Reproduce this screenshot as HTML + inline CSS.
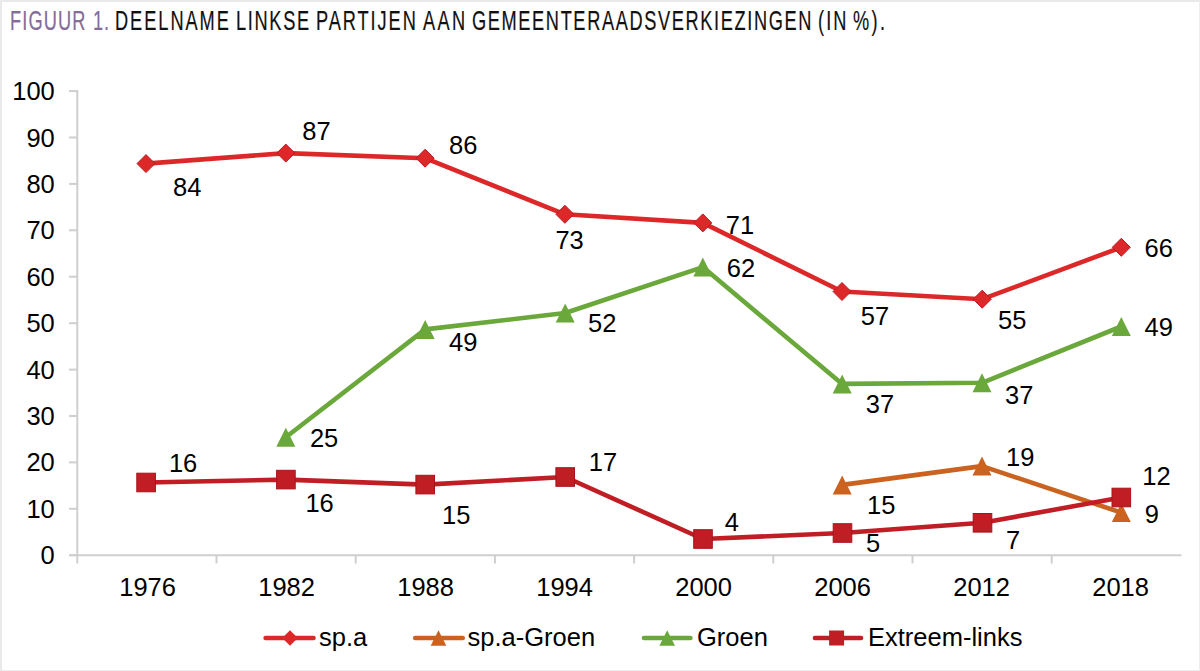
<!DOCTYPE html>
<html><head><meta charset="utf-8"><title>Figuur 1</title>
<style>
html,body{margin:0;padding:0;background:#fff;}
body{width:1200px;height:671px;overflow:hidden;position:relative;}
.frame{position:absolute;left:0;top:0;width:1200px;height:671px;box-sizing:border-box;border-top:2px solid #e9e9e9;border-left:2px solid #e9e9e9;border-right:1px solid #eeeeee;border-bottom:1px solid #ededed;}
h1{position:absolute;left:0;top:0;margin:0;width:1200px;height:40px;font-weight:normal;font-size:26px;}
h1 span{position:absolute;top:7.0px;-webkit-text-stroke:0.2px currentColor;font-family:"Liberation Sans", Arial, Helvetica, sans-serif;line-height:1;white-space:nowrap;transform-origin:0 0;}
h1 .fig{color:#836c99;}
h1 .ttl{color:#111;}
svg{position:absolute;left:0;top:0;}
</style></head><body>
<div class="frame"></div>
<h1 id="title"><span class="fig" style="left:9.50px;letter-spacing:1.595px;transform:scale(0.7,1.05)">FIGUUR</span> <span class="fig" style="left:92.50px;letter-spacing:1.397px;transform:scale(0.7,1.05)">1.</span> <span class="ttl" style="left:114.80px;letter-spacing:2.798px;transform:scale(0.7,1.05)">DEELNAME</span> <span class="ttl" style="left:236.00px;letter-spacing:2.400px;transform:scale(0.7,1.05)">LINKSE</span> <span class="ttl" style="left:316.20px;letter-spacing:2.764px;transform:scale(0.7,1.05)">PARTIJEN</span> <span class="ttl" style="left:423.30px;letter-spacing:3.444px;transform:scale(0.7,1.05)">AAN</span> <span class="ttl" style="left:472.10px;letter-spacing:2.321px;transform:scale(0.7,1.05)">GEMEENTERAADSVERKIEZINGEN</span> <span class="ttl" style="left:817.60px;letter-spacing:2.988px;transform:scale(0.7,1.05)">(IN</span> <span class="ttl" style="left:852.50px;letter-spacing:3.469px;transform:scale(0.7,1.05)">%).</span></h1>
<svg width="1200" height="671" viewBox="0 0 1200 671">
<g stroke="#cfcfcf" stroke-width="2" fill="none">
<line x1="77.3" y1="90.1" x2="77.3" y2="556.2"/>
<line x1="69" y1="555.2" x2="1181.5" y2="555.2"/>
<line x1="69" y1="555.2" x2="77.3" y2="555.2"/>
<line x1="69" y1="508.8" x2="77.3" y2="508.8"/>
<line x1="69" y1="462.4" x2="77.3" y2="462.4"/>
<line x1="69" y1="416.0" x2="77.3" y2="416.0"/>
<line x1="69" y1="369.6" x2="77.3" y2="369.6"/>
<line x1="69" y1="323.2" x2="77.3" y2="323.2"/>
<line x1="69" y1="276.7" x2="77.3" y2="276.7"/>
<line x1="69" y1="230.3" x2="77.3" y2="230.3"/>
<line x1="69" y1="183.9" x2="77.3" y2="183.9"/>
<line x1="69" y1="137.5" x2="77.3" y2="137.5"/>
<line x1="69" y1="91.1" x2="77.3" y2="91.1"/>
<line x1="77.3" y1="555.2" x2="77.3" y2="563.5"/>
<line x1="216.5" y1="555.2" x2="216.5" y2="563.5"/>
<line x1="355.7" y1="555.2" x2="355.7" y2="563.5"/>
<line x1="494.9" y1="555.2" x2="494.9" y2="563.5"/>
<line x1="634.1" y1="555.2" x2="634.1" y2="563.5"/>
<line x1="773.3" y1="555.2" x2="773.3" y2="563.5"/>
<line x1="912.5" y1="555.2" x2="912.5" y2="563.5"/>
<line x1="1051.7" y1="555.2" x2="1051.7" y2="563.5"/>
</g>
<g font-family='"Liberation Sans", Arial, Helvetica, sans-serif' font-size="25.5" fill="#000" text-anchor="end">
<text x="54.8" y="564.2">0</text>
<text x="54.8" y="517.8">10</text>
<text x="54.8" y="471.4">20</text>
<text x="54.8" y="425.0">30</text>
<text x="54.8" y="378.6">40</text>
<text x="54.8" y="332.2">50</text>
<text x="54.8" y="285.7">60</text>
<text x="54.8" y="239.3">70</text>
<text x="54.8" y="192.9">80</text>
<text x="54.8" y="146.5">90</text>
<text x="54.8" y="100.1">100</text>
</g>
<g font-family='"Liberation Sans", Arial, Helvetica, sans-serif' font-size="25.5" fill="#000" text-anchor="middle">
<text x="147.6" y="595.5">1976</text>
<text x="286.6" y="595.5">1982</text>
<text x="425.6" y="595.5">1988</text>
<text x="564.6" y="595.5">1994</text>
<text x="703.6" y="595.5">2000</text>
<text x="842.6" y="595.5">2006</text>
<text x="981.6" y="595.5">2012</text>
<text x="1120.6" y="595.5">2018</text>
</g>
<polyline points="146.0,163.6 285.8,153.1 425.1,158.2 564.9,214.3 702.8,222.9 842.0,291.5 982.2,299.2 1121.3,247.3" fill="none" stroke="#dd2829" stroke-width="4.6" stroke-linejoin="round" stroke-linecap="butt"/>
<path d="M137.0 163.6L146.0 154.6L155.0 163.6L146.0 172.6Z" fill="#dd2829" stroke="#c01820" stroke-width="1"/>
<path d="M276.8 153.1L285.8 144.1L294.8 153.1L285.8 162.1Z" fill="#dd2829" stroke="#c01820" stroke-width="1"/>
<path d="M416.1 158.2L425.1 149.2L434.1 158.2L425.1 167.2Z" fill="#dd2829" stroke="#c01820" stroke-width="1"/>
<path d="M555.9 214.3L564.9 205.3L573.9 214.3L564.9 223.3Z" fill="#dd2829" stroke="#c01820" stroke-width="1"/>
<path d="M693.8 222.9L702.8 213.9L711.8 222.9L702.8 231.9Z" fill="#dd2829" stroke="#c01820" stroke-width="1"/>
<path d="M833.0 291.5L842.0 282.5L851.0 291.5L842.0 300.5Z" fill="#dd2829" stroke="#c01820" stroke-width="1"/>
<path d="M973.2 299.2L982.2 290.2L991.2 299.2L982.2 308.2Z" fill="#dd2829" stroke="#c01820" stroke-width="1"/>
<path d="M1112.3 247.3L1121.3 238.3L1130.3 247.3L1121.3 256.3Z" fill="#dd2829" stroke="#c01820" stroke-width="1"/>
<polyline points="842.2,484.9 982.0,466.1 1121.3,512.6" fill="none" stroke="#cb621f" stroke-width="4.6" stroke-linejoin="round" stroke-linecap="butt"/>
<path d="M842.2 475.4L851.7 494.4L832.7 494.4Z" fill="#cb621f"/>
<path d="M982.0 456.6L991.5 475.6L972.5 475.6Z" fill="#cb621f"/>
<path d="M1121.3 503.1L1130.8 522.1L1111.8 522.1Z" fill="#cb621f"/>
<polyline points="285.8,437.3 425.2,329.4 565.2,313.0 702.8,267.1 842.2,383.9 982.0,382.8 1121.3,326.5" fill="none" stroke="#6aa83b" stroke-width="4.6" stroke-linejoin="round" stroke-linecap="butt"/>
<path d="M285.8 427.8L295.3 446.8L276.3 446.8Z" fill="#6aa83b"/>
<path d="M425.2 319.9L434.7 338.9L415.7 338.9Z" fill="#6aa83b"/>
<path d="M565.2 303.5L574.7 322.5L555.7 322.5Z" fill="#6aa83b"/>
<path d="M702.8 257.6L712.3 276.6L693.3 276.6Z" fill="#6aa83b"/>
<path d="M842.2 374.4L851.7 393.4L832.7 393.4Z" fill="#6aa83b"/>
<path d="M982.0 373.3L991.5 392.3L972.5 392.3Z" fill="#6aa83b"/>
<path d="M1121.3 317.0L1130.8 336.0L1111.8 336.0Z" fill="#6aa83b"/>
<polyline points="146.1,482.5 285.9,479.6 425.2,484.6 565.2,477.0 703.0,539.0 842.5,533.0 982.5,522.8 1121.3,497.5" fill="none" stroke="#c01d25" stroke-width="4.6" stroke-linejoin="round" stroke-linecap="butt"/>
<rect x="136.8" y="473.2" width="18.6" height="18.6" fill="#c01d25" stroke="#a8131b" stroke-width="1"/>
<rect x="276.6" y="470.3" width="18.6" height="18.6" fill="#c01d25" stroke="#a8131b" stroke-width="1"/>
<rect x="415.9" y="475.3" width="18.6" height="18.6" fill="#c01d25" stroke="#a8131b" stroke-width="1"/>
<rect x="555.9" y="467.7" width="18.6" height="18.6" fill="#c01d25" stroke="#a8131b" stroke-width="1"/>
<rect x="693.7" y="529.7" width="18.6" height="18.6" fill="#c01d25" stroke="#a8131b" stroke-width="1"/>
<rect x="833.2" y="523.7" width="18.6" height="18.6" fill="#c01d25" stroke="#a8131b" stroke-width="1"/>
<rect x="973.2" y="513.5" width="18.6" height="18.6" fill="#c01d25" stroke="#a8131b" stroke-width="1"/>
<rect x="1112.0" y="488.2" width="18.6" height="18.6" fill="#c01d25" stroke="#a8131b" stroke-width="1"/>
<g font-family='"Liberation Sans", Arial, Helvetica, sans-serif' font-size="25.5" fill="#000" text-anchor="middle">
<text x="187.2" y="195.7">84</text>
<text x="316.5" y="139.7">87</text>
<text x="463.2" y="153.7">86</text>
<text x="569.6" y="249.4">73</text>
<text x="739.9" y="233.6">71</text>
<text x="875.0" y="324.7">57</text>
<text x="1012.2" y="328.6">55</text>
<text x="1158.8" y="256.9">66</text>
<text x="324.1" y="447.4">25</text>
<text x="463.2" y="351.1">49</text>
<text x="602.2" y="332.4">52</text>
<text x="740.9" y="277.0">62</text>
<text x="880.0" y="413.4">37</text>
<text x="1019.2" y="404.0">37</text>
<text x="1158.8" y="335.7">49</text>
<text x="881.2" y="514.0">15</text>
<text x="1020.3" y="465.9">19</text>
<text x="1151.8" y="522.6">9</text>
<text x="183.1" y="472.1">16</text>
<text x="319.6" y="512.0">16</text>
<text x="456.2" y="524.3">15</text>
<text x="603.0" y="471.3">17</text>
<text x="731.8" y="530.5">4</text>
<text x="873.2" y="551.7">5</text>
<text x="1013.1" y="549.1">7</text>
<text x="1156.5" y="485.0">12</text>
</g>
<line x1="265.6" y1="638" x2="313.5" y2="638" stroke="#dd2829" stroke-width="4.6" stroke-linecap="round"/>
<path d="M282.2 638.0L290.0 630.2L297.8 638.0L290.0 645.8Z" fill="#dd2829"/>
<line x1="415.2" y1="638" x2="462.7" y2="638" stroke="#cb621f" stroke-width="4.6" stroke-linecap="round"/>
<path d="M438.5 630.2L446.3 645.8L430.7 645.8Z" fill="#cb621f"/>
<line x1="644.0" y1="638" x2="690.4" y2="638" stroke="#6aa83b" stroke-width="4.6" stroke-linecap="round"/>
<path d="M667.2 630.2L675.0 645.8L659.4 645.8Z" fill="#6aa83b"/>
<line x1="815.0" y1="638" x2="861.0" y2="638" stroke="#c01d25" stroke-width="4.6" stroke-linecap="round"/>
<rect x="829.1" y="630.5" width="15.0" height="15.0" fill="#c01d25"/>
<g font-family='"Liberation Sans", Arial, Helvetica, sans-serif' font-size="25.5" fill="#000">
<text x="319" y="646.3">sp.a</text>
<text x="467.5" y="646.3">sp.a-Groen</text>
<text x="697" y="646.3">Groen</text>
<text x="868" y="646.3">Extreem-links</text>
</g>
</svg>
</body></html>
